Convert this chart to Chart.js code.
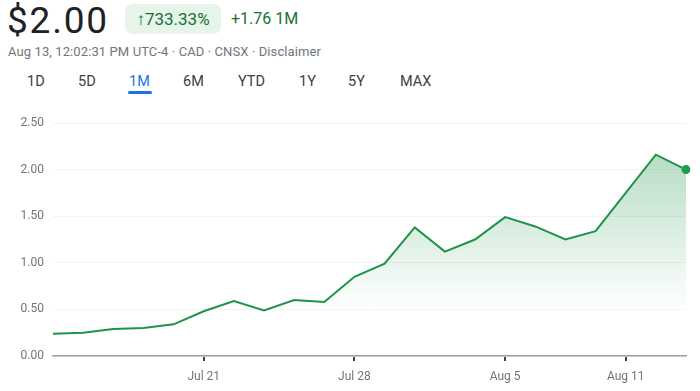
<!DOCTYPE html>
<html>
<head>
<meta charset="utf-8">
<script src="https://cdn.jsdelivr.net/npm/chart.js@4.4.1/dist/chart.umd.min.js"></script>
<style>
  body { margin: 0; background: #fff; font-family: Roboto, "Noto Sans", sans-serif; width: 700px; height: 391px; overflow: hidden; position: relative; }
  .price { position: absolute; left: 7px; top: -1px; font-size: 37px; letter-spacing: 1.8px; color: #202124; }
  .badge { position: absolute; left: 125px; top: 4px; width: 96px; height: 30px; background: #e6f4ea; border-radius: 8px; color: #137333; font-size: 17px; line-height: 30px; text-align: center; }
  .chg { position: absolute; left: 231px; top: 4px; line-height: 30px; font-size: 16px; color: #137333; }
  .sub { position: absolute; left: 8px; top: 44px; font-size: 13px; letter-spacing: 0.1px; color: #70757a; }
  .tab { position: absolute; top: 73px; font-size: 14.5px; color: #3c4043; }
  .tab.on { color: #1a73e8; }
  .bar { position: absolute; left: 128px; top: 91px; width: 24px; height: 3px; border-radius: 2px; background: #1a73e8; }
  #wrap { position: absolute; left: 0; top: 105px; width: 700px; height: 286px; }
</style>
</head>
<body>
<div class="price">$2.00</div>
<div class="badge">↑733.33%</div>
<div class="chg">+1.76 1M</div>
<div class="sub">Aug 13, 12:02:31 PM UTC-4 · CAD · CNSX · Disclaimer</div>
<span class="tab" style="left:27px">1D</span>
<span class="tab" style="left:78px">5D</span>
<span class="tab on" style="left:129px">1M</span>
<span class="tab" style="left:183px">6M</span>
<span class="tab" style="left:238px">YTD</span>
<span class="tab" style="left:299px">1Y</span>
<span class="tab" style="left:348px">5Y</span>
<span class="tab" style="left:400px">MAX</span>
<div class="bar"></div>
<div id="wrap"><canvas id="c"></canvas></div>
<script>
const dates = ["Jul 14", "Jul 15", "Jul 16", "Jul 17", "Jul 18", "Jul 21", "Jul 22", "Jul 23", "Jul 24", "Jul 25",
  "Jul 28", "Jul 29", "Jul 30", "Jul 31", "Aug 1", "Aug 5", "Aug 6", "Aug 7", "Aug 8", "Aug 11", "Aug 12", "Aug 13"];
const prices = [0.24, 0.25, 0.29, 0.30, 0.34, 0.48, 0.59, 0.49, 0.60, 0.58,
  0.85, 0.99, 1.38, 1.12, 1.25, 1.49, 1.39, 1.25, 1.34, 1.75, 2.16, 2.00];
const shownDates = ["Jul 21", "Jul 28", "Aug 5", "Aug 11"];
const yTicks = [0, 0.5, 1, 1.5, 2, 2.5];

const green = '#1e9449';

const ctx = document.getElementById('c');
new Chart(ctx.getContext('2d'), {
  type: 'line',
  data: {
    labels: dates,
    datasets: [{
      data: prices,
      borderColor: green,
      borderWidth: 2,
      tension: 0,
      fill: 'origin',
      backgroundColor: (c) => {
        const area = c.chart.chartArea;
        if (!area) return 'rgba(30,148,73,0.2)';
        const y0 = c.chart.scales.y.getPixelForValue(0.5);
        const g = c.chart.ctx.createLinearGradient(0, area.top + 30, 0, y0);
        g.addColorStop(0, 'rgba(30,148,73,0.32)');
        g.addColorStop(1, 'rgba(30,148,73,0)');
        return g;
      },
      pointRadius: (c) => c.dataIndex === prices.length - 1 ? 4.5 : 0,
      pointBackgroundColor: '#1e9e50',
      pointBorderWidth: 0,
      pointHoverRadius: 0
    }]
  },
  options: {
    responsive: true,
    maintainAspectRatio: false,
    animation: false,
    layout: { padding: { top: 18, right: 14, left: 0, bottom: 0 } },
    plugins: { legend: { display: false }, tooltip: { enabled: false } },
    scales: {
      x: {
        offset: false,
        afterFit: (s) => { s.height = 35; },
        border: { display: true, color: '#9aa0a6', width: 1.5 },
        grid: {
          drawOnChartArea: false,
          drawTicks: true,
          tickLength: 5,
          lineWidth: 2,
          color: (c) => shownDates.includes(dates[c.index]) ? '#3c4043' : 'rgba(0,0,0,0)'
        },
        ticks: {
          autoSkip: false,
          maxRotation: 0,
          color: '#70757a',
          font: { family: 'Roboto', size: 12 },
          padding: 9,
          callback: (v, i) => shownDates.includes(dates[i]) ? dates[i] : ''
        }
      },
      y: {
        min: 0,
        max: 2.5,
        afterFit: (s) => { s.width = 53; },
        afterBuildTicks: (s) => { s.ticks = yTicks.map(v => ({ value: v })); },
        border: { display: false },
        grid: { drawTicks: false, color: '#f1f3f4', lineWidth: 1 },
        ticks: {
          color: '#70757a',
          padding: 9,
          font: { family: 'Roboto', size: 12 },
          callback: (v) => Number(v).toFixed(2)
        }
      }
    }
  }
});
</script>
</body>
</html>
